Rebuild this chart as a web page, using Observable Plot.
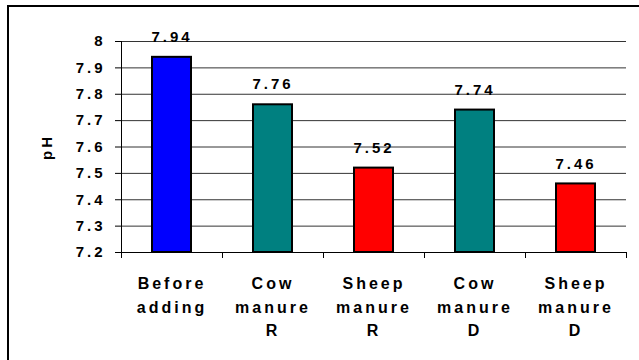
<!DOCTYPE html>
<html>
<head>
<meta charset="utf-8">
<script src="https://cdn.jsdelivr.net/npm/d3@7"></script>
<script src="https://cdn.jsdelivr.net/npm/@observablehq/plot@0.6"></script>
<style>
  html, body { margin: 0; padding: 0; background: white; overflow: hidden; }
  #wrap { position: relative; width: 639px; height: 360px; overflow: hidden; }
  #frame { position: absolute; left: 7px; top: 5px; width: 700px; height: 400px; border: 2px solid black; pointer-events: none; }
  #wrap svg text { font-family: "Liberation Sans", Arial, sans-serif; font-weight: bold; font-size: 15px; letter-spacing: 3px; fill: black; }
  #wrap svg g.cat text { font-size: 16px; }
</style>
</head>
<body>
<div id="wrap"><div id="chart"></div><div id="frame"></div></div>
<script>
const categories = ["Before\nadding", "Cow\nmanure\nR", "Sheep\nmanure\nR", "Cow\nmanure\nD", "Sheep\nmanure\nD"];
const phValues = [7.94, 7.76, 7.52, 7.74, 7.46];
const barColors = ["#0000FF", "#008080", "#FF0000", "#008080", "#FF0000"];
const valueLabels = ["7.94", "7.76", "7.52", "7.74", "7.46"];
const yTicks = [7.2, 7.3, 7.4, 7.5, 7.6, 7.7, 7.8, 7.9, 8];
const yTickLabels = ["7.2", "7.3", "7.4", "7.5", "7.6", "7.7", "7.8", "7.9", "8"];
const xBoundaries = [0, 1, 2, 3, 4, 5];

const data = categories.map((c, i) => ({i, category: c, value: phValues[i], color: barColors[i], label: valueLabels[i]}));

const chart = Plot.plot({
  width: 639,
  height: 360,
  marginLeft: 121,
  marginRight: 13,
  marginTop: 41,
  marginBottom: 108,
  x: {type: "linear", domain: [0, 5]},
  y: {domain: [7.2, 8]},
  color: {type: "identity"},
  marks: [
    Plot.ruleY(yTicks, {stroke: "#333", strokeWidth: 1}),
    Plot.axisY({ticks: yTicks, tickSize: 6, tickPadding: 10, tickFormat: d => yTickLabels[yTicks.indexOf(d)], label: "pH", labelArrow: "none", labelAnchor: "center", labelOffset: 80, stroke: "black", strokeOpacity: 1, strokeWidth: 1}),
    Plot.axisX({ticks: xBoundaries, tickSize: 6, tickFormat: () => "", label: null, stroke: "black", strokeOpacity: 1, strokeWidth: 1}),
    Plot.ruleX([0], {stroke: "black"}),
    Plot.ruleY([7.2], {stroke: "black"}),
    Plot.rectY(data, {x1: d => d.i, x2: d => d.i + 1, y1: 7.2, y2: "value", fill: "color", stroke: "black", strokeWidth: 2, insetLeft: 31, insetRight: 31}),
    Plot.text(data, {x: d => d.i + 0.5, y: "value", text: "label", lineAnchor: "top", dy: -26}),
    Plot.text(data, {x: d => d.i + 0.5, y: 7.2, text: "category", lineAnchor: "top", dy: 20, lineHeight: 1.47, className: "cat"})
  ]
});
document.getElementById("chart").appendChild(chart);
</script>
</body>
</html>
